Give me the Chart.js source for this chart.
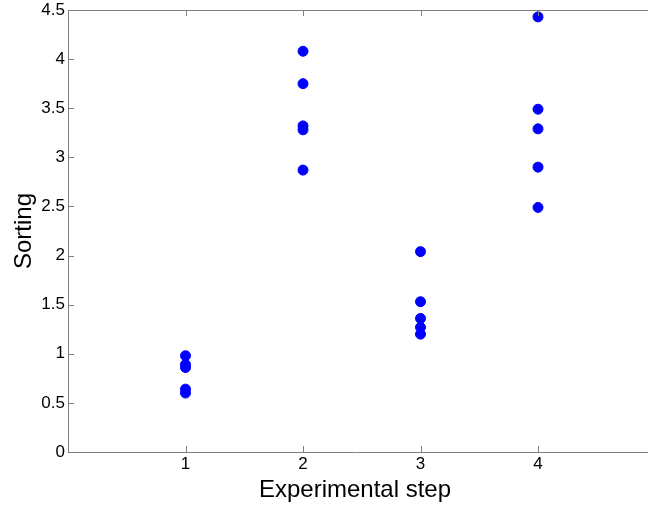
<!DOCTYPE html>
<html>
<head>
<meta charset="utf-8">
<script src="https://cdn.jsdelivr.net/npm/chart.js@4/dist/chart.umd.min.js"></script>
<style>
    html, body { margin: 0; padding: 0; background: #fff; overflow: hidden; }
    #wrap { position: relative; width: 648px; height: 505px; }
</style>
</head>
<body>
<div id="wrap"><canvas id="scatterChart"></canvas></div>
<script>
const steps = [1, 2, 3, 4];
const step1 = [0.98, 0.89, 0.86, 0.64, 0.60];
const step2 = [4.08, 3.75, 3.32, 3.28, 2.87];
const step3 = [2.04, 1.53, 1.36, 1.27, 1.20];
const step4 = [4.43, 3.49, 3.29, 2.90, 2.49];
const yTicks = [0, 0.5, 1, 1.5, 2, 2.5, 3, 3.5, 4, 4.5];

const allSteps = [step1, step2, step3, step4];
const points = [];
allSteps.forEach((vals, i) => {
    vals.forEach(v => points.push({ x: steps[i], y: v }));
});

const axisColor = '#7f7f7f';

// tacche verso l'interno + bordo superiore (stile MATLAB)
const innerTicks = {
    id: 'innerTicks',
    afterDraw(chart) {
        const ctx = chart.ctx;
        const a = chart.chartArea;
        const xs = chart.scales.x, ys = chart.scales.y;
        ctx.save();
        ctx.strokeStyle = axisColor;
        ctx.lineWidth = 1;
        ctx.beginPath();
        // bordo superiore e asse x fino al taglio dell'immagine
        ctx.moveTo(a.left, Math.round(a.top) + 0.5);
        ctx.lineTo(chart.width, Math.round(a.top) + 0.5);
        ctx.moveTo(a.right, Math.round(a.bottom) + 0.5);
        ctx.lineTo(chart.width, Math.round(a.bottom) + 0.5);
        steps.forEach(s => {
            const px = Math.round(xs.getPixelForValue(s)) + 0.5;
            ctx.moveTo(px, a.bottom);
            ctx.lineTo(px, a.bottom - 6);
            ctx.moveTo(px, a.top);
            ctx.lineTo(px, a.top + 6);
        });
        yTicks.forEach(t => {
            const py = Math.round(ys.getPixelForValue(t)) + 0.5;
            ctx.moveTo(a.left, py);
            ctx.lineTo(a.left + 6, py);
        });
        ctx.stroke();
        ctx.restore();
    }
};

const ctx = document.getElementById('scatterChart').getContext('2d');
new Chart(ctx, {
    type: 'scatter',
    data: {
        datasets: [{
            data: points,
            backgroundColor: '#0000ff',
            borderColor: '#0000ff',
            pointRadius: 5,
            pointHoverRadius: 5
        }]
    },
    options: {
        responsive: true,
        maintainAspectRatio: false,
        animation: false,
        layout: { padding: { top: 10, right: 0, left: 0, bottom: 0 } },
        plugins: { legend: { display: false }, tooltip: { enabled: false } },
        scales: {
            x: {
                type: 'linear',
                min: 0,
                max: 4.885, // la figura originale è tagliata prima di x = 5
                afterBuildTicks: (s) => { s.ticks = steps.map(v => ({ value: v })); },
                afterFit: (s) => { s.height = 53; s.paddingLeft = 0; s.paddingRight = 0; },
                grid: { display: false, drawTicks: false },
                border: { color: axisColor, width: 1 },
                ticks: {
                    color: '#000',
                    padding: 4,
                    callback: (v) => String(v),
                    font: { family: 'Liberation Sans', size: 17, lineHeight: 1 }
                },
                title: {
                    display: true,
                    text: 'Experimental step',
                    color: '#000',
                    padding: { top: 0, bottom: 0 },
                    font: { family: 'Liberation Sans', size: 24 }
                }
            },
            y: {
                min: 0,
                max: 4.5,
                afterBuildTicks: (s) => { s.ticks = yTicks.map(v => ({ value: v })); },
                afterFit: (s) => { s.width = 68; s.paddingTop = 0; s.paddingBottom = 0; },
                grid: { display: false, drawTicks: false },
                border: { color: axisColor, width: 1 },
                ticks: {
                    color: '#000',
                    padding: 3,
                    callback: (v) => String(v),
                    font: { family: 'Liberation Sans', size: 17, lineHeight: 1 }
                },
                title: {
                    display: true,
                    text: 'Sorting',
                    color: '#000',
                    padding: { top: 10, bottom: 0 },
                    font: { family: 'Liberation Sans', size: 24 }
                }
            }
        }
    },
    plugins: [innerTicks]
});
</script>
</body>
</html>
